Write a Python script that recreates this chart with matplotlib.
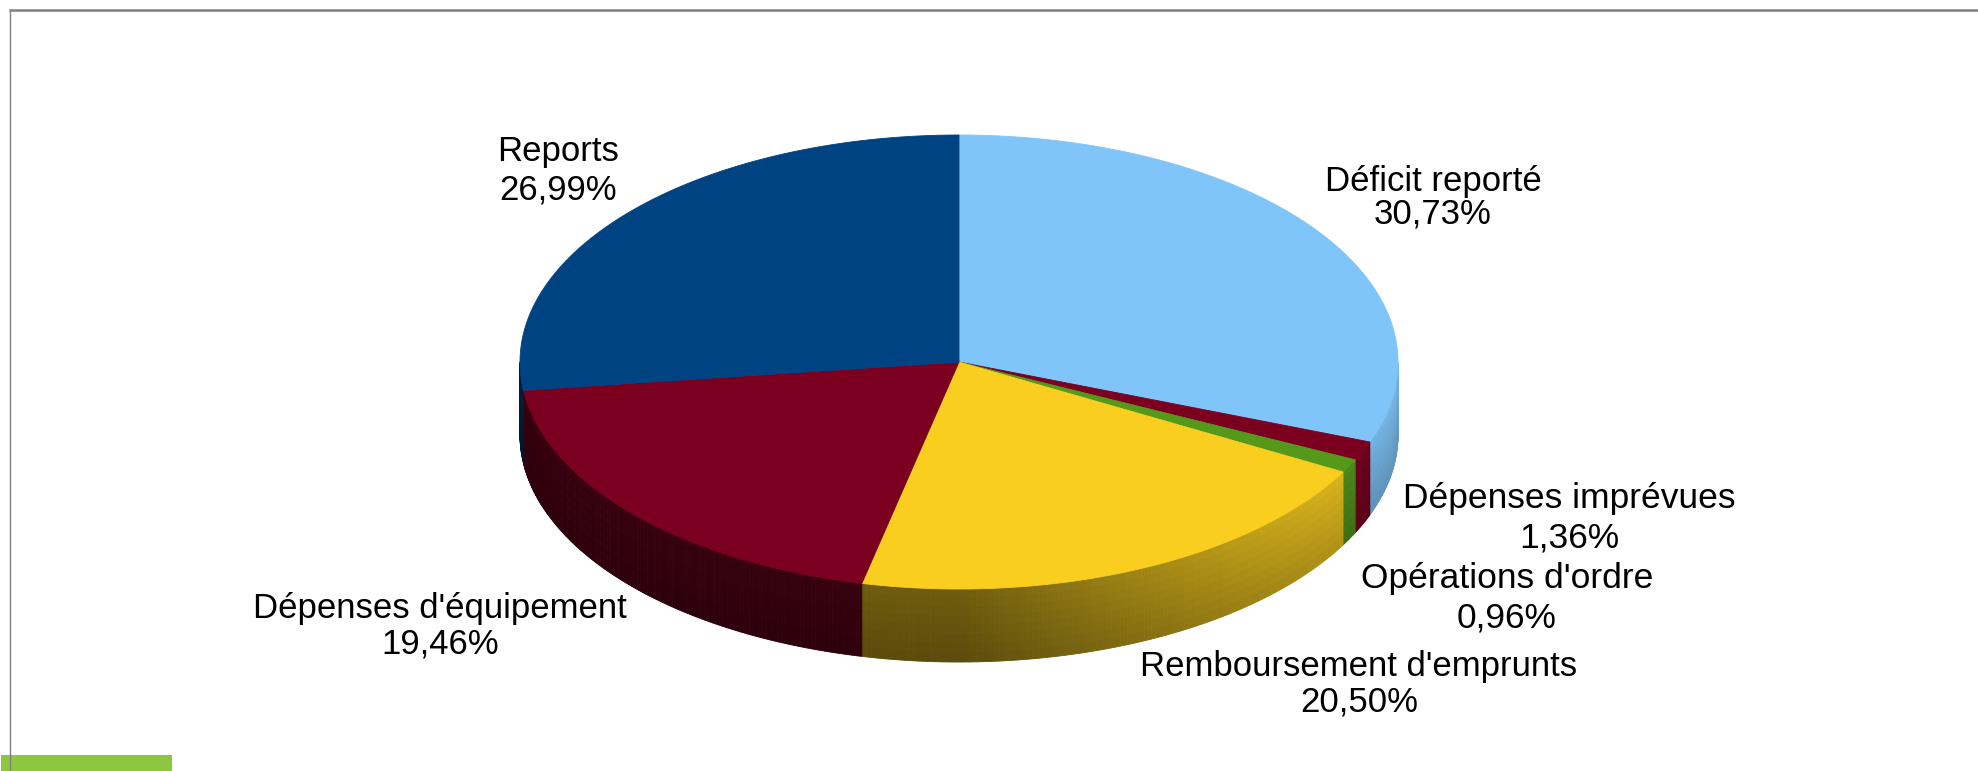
"""3D pie of the budget split (dépenses d'investissement)."""

import numpy as np
import matplotlib.pyplot as plt
from matplotlib.collections import PolyCollection
from matplotlib.colors import to_rgb
from matplotlib.patches import Polygon, Rectangle

plt.rcParams["font.family"] = ["Liberation Sans", "DejaVu Sans"]

# slices, clockwise from 12 o'clock
labels = [
    "Déficit reporté",
    "Dépenses imprévues",
    "Opérations d'ordre",
    "Remboursement d'emprunts",
    "Dépenses d'équipement",
    "Reports",
]
shares = [30.73, 1.36, 0.96, 20.50, 19.46, 26.99]
slice_colors = ["#83CAFF", "#7E0021", "#579D1C", "#FFD320", "#7E0021", "#004586"]

# label anchor (center x, baseline of first line, baseline of second line, size)
label_pos = [
    (1433, 191, 224, 25),
    (1569, 508, 547, 25.5),
    (1507, 588, 627, 25.5),
    (1359, 676, 711, 25),
    (440, 618, 653, 25),
    (558, 161, 199, 25),
]

W, H = 1978, 771
cx, cy = 959, 362
rx, ry, depth = 439, 227, 73


def ell(theta):
    t = np.radians(theta)
    return cx + rx * np.cos(t), cy - ry * np.sin(t)


def wall_shade(theta):
    return 0.42 + 0.46 * max(0.0, np.cos(np.radians(theta)))


fig = plt.figure(figsize=(W / 100, H / 100), dpi=100)
ax = fig.add_axes([0, 0, 1, 1])
ax.set_xlim(0, W)
ax.set_ylim(H, 0)
ax.axis("off")

fracs = np.array(shares) / sum(shares)
ends = 90 - 360 * np.cumsum(fracs)
starts = np.concatenate([[90], ends[:-1]])

# side walls: only the front half (-180..0 deg) is visible
quads, cols = [], []
n_v = 8
for a1, a2, col in zip(starts, ends, slice_colors):
    lo, hi = max(min(a1, a2), -180), min(max(a1, a2), 0)
    if lo >= hi:
        continue
    base = np.array(to_rgb(col))
    steps = max(2, int((hi - lo) * 3))
    th = np.linspace(lo, hi, steps + 1)
    for t0, t1 in zip(th[:-1], th[1:]):
        x0, y0 = ell(t0)
        x1, y1 = ell(t1)
        s = wall_shade(0.5 * (t0 + t1))
        for k in range(n_v):
            d0, d1 = depth * k / n_v, depth * (k + 1) / n_v
            v = 1.04 - 0.2 * (k + 0.5) / n_v
            quads.append([(x0, y0 + d0), (x1, y1 + d0), (x1, y1 + d1), (x0, y0 + d1)])
            cols.append(np.clip(base * s * v, 0, 1))
pc = PolyCollection(quads, facecolors=cols, edgecolors=cols, linewidths=0.6)
ax.add_collection(pc)

# top faces
for a1, a2, col in zip(starts, ends, slice_colors):
    th = np.linspace(a1, a2, max(3, int(abs(a1 - a2) * 4)))
    xs, ys = ell(th)
    pts = np.column_stack([np.concatenate([[cx], xs]), np.concatenate([[cy], ys])])
    face = np.clip(np.array(to_rgb(col)) * 0.975, 0, 1)
    ax.add_patch(Polygon(pts, closed=True, facecolor=face, edgecolor=face, linewidth=0.6))

for name, val, (lx, b1, b2, fs) in zip(labels, shares, label_pos):
    pct = f"{val:.2f}".replace(".", ",") + "%"
    ax.text(lx, b1, name, ha="center", va="baseline", fontsize=fs, color="black")
    ax.text(lx, b2, pct, ha="center", va="baseline", fontsize=fs, color="black")

# frame bits
ax.add_patch(Rectangle((1, 755), 171, 16, facecolor="#8DC63F", edgecolor="none"))
ax.plot([9, W], [9.5, 9.5], color="#7f7f7f", linewidth=1.8, solid_capstyle="butt")
ax.plot([9.5, 9.5], [9, H], color="#7f7f7f", linewidth=1.0, solid_capstyle="butt")

fig.savefig("out.png", dpi=100)
plt.close(fig)
